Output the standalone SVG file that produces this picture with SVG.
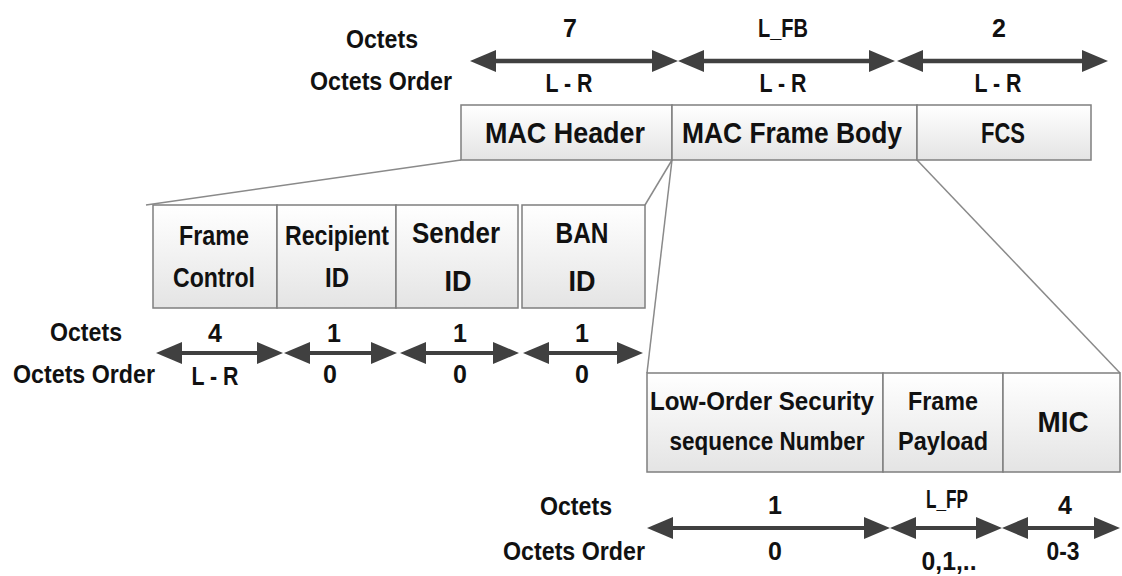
<svg xmlns="http://www.w3.org/2000/svg" width="1122" height="576" viewBox="0 0 1122 576">
<defs>
<linearGradient id="boxfill" x1="0" y1="0" x2="0" y2="1">
<stop offset="0" stop-color="#ffffff"/>
<stop offset="1" stop-color="#e4e4e4"/>
</linearGradient>
<marker id="ah" viewBox="0 0 26 22" refX="16" refY="11" markerWidth="26" markerHeight="22" markerUnits="userSpaceOnUse" orient="auto-start-reverse">
<path d="M0,0 L26,11 L0,22 z" fill="#404040"/>
</marker>
<style>
text{font-family:"Liberation Sans",Arial,sans-serif;font-weight:bold;fill:#111;text-anchor:middle}
.lbl{font-size:25px}
.big{font-size:30px}
.mid{font-size:28px}
.low{font-size:26px}
.sb{font-size:30px}
.box{fill:url(#boxfill);stroke:#7f7f7f;stroke-width:1.5}
.link{stroke:#8a8a8a;stroke-width:1.5;fill:none}
.arr{stroke:#404040;stroke-width:4.5;marker-start:url(#ah);marker-end:url(#ah)}
.arr4{stroke-width:4}
</style>
</defs>
<rect width="1122" height="576" fill="#ffffff"/>

<g id="connectors">
<line class="link" x1="461" y1="160" x2="146" y2="205"/>
<line class="link" x1="672" y1="160" x2="645" y2="205"/>
<line class="link" x1="672" y1="160" x2="647" y2="373"/>
<line class="link" x1="917" y1="160" x2="1120" y2="373"/>
<line class="arr" x1="480" y1="61" x2="668" y2="61"/>
<line class="arr" x1="688" y1="61" x2="885" y2="61"/>
<line class="arr" x1="907" y1="61" x2="1098" y2="61"/>
<line class="arr arr4" x1="166" y1="353" x2="273" y2="353"/>
<line class="arr arr4" x1="294" y1="353" x2="387" y2="353"/>
<line class="arr arr4" x1="410" y1="353" x2="509" y2="353"/>
<line class="arr arr4" x1="533" y1="353" x2="633" y2="353"/>
<line class="arr arr4" x1="657" y1="528" x2="880" y2="528"/>
<line class="arr arr4" x1="900" y1="528" x2="992" y2="528"/>
<line class="arr arr4" x1="1012" y1="528" x2="1110" y2="528"/>
</g>

<g id="top-labels">
<text class="lbl" x="382" y="48" textLength="72" lengthAdjust="spacingAndGlyphs">Octets</text>
<text class="lbl" x="381" y="90" textLength="142" lengthAdjust="spacingAndGlyphs">Octets Order</text>
<text class="lbl" x="570" y="37">7</text>
<text class="lbl" x="783" y="37" textLength="50" lengthAdjust="spacingAndGlyphs">L_FB</text>
<text class="lbl" x="999" y="37">2</text>
<text class="lbl" x="569" y="92" textLength="47" lengthAdjust="spacingAndGlyphs">L - R</text>
<text class="lbl" x="783" y="92" textLength="47" lengthAdjust="spacingAndGlyphs">L - R</text>
<text class="lbl" x="998" y="92" textLength="47" lengthAdjust="spacingAndGlyphs">L - R</text>
</g>

<g id="mac-header">
<rect class="box" x="461" y="105" width="211" height="55"/>
<text class="big" x="565" y="143" textLength="160" lengthAdjust="spacingAndGlyphs">MAC Header</text>
</g>
<g id="mac-frame-body">
<rect class="box" x="672" y="105" width="245" height="55"/>
<text class="big" x="792" y="143" textLength="220" lengthAdjust="spacingAndGlyphs">MAC Frame Body</text>
</g>
<g id="fcs">
<rect class="box" x="917" y="105" width="174" height="55"/>
<text class="big" x="1003" y="143" textLength="44" lengthAdjust="spacingAndGlyphs">FCS</text>
</g>

<g id="frame-control">
<rect class="box" x="153" y="205" width="124" height="103"/>
<text class="mid" x="214" y="245" textLength="70" lengthAdjust="spacingAndGlyphs">Frame</text>
<text class="mid" x="214" y="287" textLength="82" lengthAdjust="spacingAndGlyphs">Control</text>
</g>
<g id="recipient-id">
<rect class="box" x="277" y="205" width="119" height="103"/>
<text class="mid" x="337" y="245" textLength="104" lengthAdjust="spacingAndGlyphs">Recipient</text>
<text class="mid" x="337" y="287" textLength="24" lengthAdjust="spacingAndGlyphs">ID</text>
</g>
<g id="sender-id">
<rect class="box" x="396" y="205" width="122" height="103"/>
<text class="sb" x="456" y="243" textLength="88" lengthAdjust="spacingAndGlyphs">Sender</text>
<text class="sb" x="458" y="291" textLength="27" lengthAdjust="spacingAndGlyphs">ID</text>
</g>
<g id="ban-id">
<rect class="box" x="522" y="205" width="123" height="103"/>
<text class="sb" x="582" y="243" textLength="53" lengthAdjust="spacingAndGlyphs">BAN</text>
<text class="sb" x="582" y="291" textLength="27" lengthAdjust="spacingAndGlyphs">ID</text>
</g>

<g id="header-labels">
<text class="lbl" x="86" y="341" textLength="72" lengthAdjust="spacingAndGlyphs">Octets</text>
<text class="lbl" x="84" y="383" textLength="142" lengthAdjust="spacingAndGlyphs">Octets Order</text>
<text class="lbl" x="215" y="342">4</text>
<text class="lbl" x="334" y="342">1</text>
<text class="lbl" x="460" y="342">1</text>
<text class="lbl" x="582" y="342">1</text>
<text class="lbl" x="215" y="385" textLength="47" lengthAdjust="spacingAndGlyphs">L - R</text>
<text class="lbl" x="330" y="383">0</text>
<text class="lbl" x="460" y="383">0</text>
<text class="lbl" x="582" y="383">0</text>
</g>

<g id="low-order-ssn">
<rect class="box" x="647" y="373" width="236" height="99"/>
<text class="low" x="762" y="410" textLength="224" lengthAdjust="spacingAndGlyphs">Low-Order Security</text>
<text class="low" x="767" y="450" textLength="195" lengthAdjust="spacingAndGlyphs">sequence Number</text>
</g>
<g id="frame-payload">
<rect class="box" x="883" y="373" width="120" height="99"/>
<text class="low" x="943" y="410" textLength="70" lengthAdjust="spacingAndGlyphs">Frame</text>
<text class="low" x="943" y="450" textLength="90" lengthAdjust="spacingAndGlyphs">Payload</text>
</g>
<g id="mic">
<rect class="box" x="1003" y="373" width="117" height="99"/>
<text class="big" x="1063" y="432" textLength="51" lengthAdjust="spacingAndGlyphs">MIC</text>
</g>

<g id="body-labels">
<text class="lbl" x="576" y="515" textLength="72" lengthAdjust="spacingAndGlyphs">Octets</text>
<text class="lbl" x="574" y="560" textLength="142" lengthAdjust="spacingAndGlyphs">Octets Order</text>
<text class="lbl" x="775" y="514">1</text>
<text class="lbl" x="947" y="508" textLength="42" lengthAdjust="spacingAndGlyphs">L_FP</text>
<text class="lbl" x="1065" y="514">4</text>
<text class="lbl" x="775" y="560">0</text>
<text class="lbl" x="949" y="570" textLength="55" lengthAdjust="spacingAndGlyphs">0,1,..</text>
<text class="lbl" x="1063" y="560" textLength="33" lengthAdjust="spacingAndGlyphs">0-3</text>
</g>
</svg>
